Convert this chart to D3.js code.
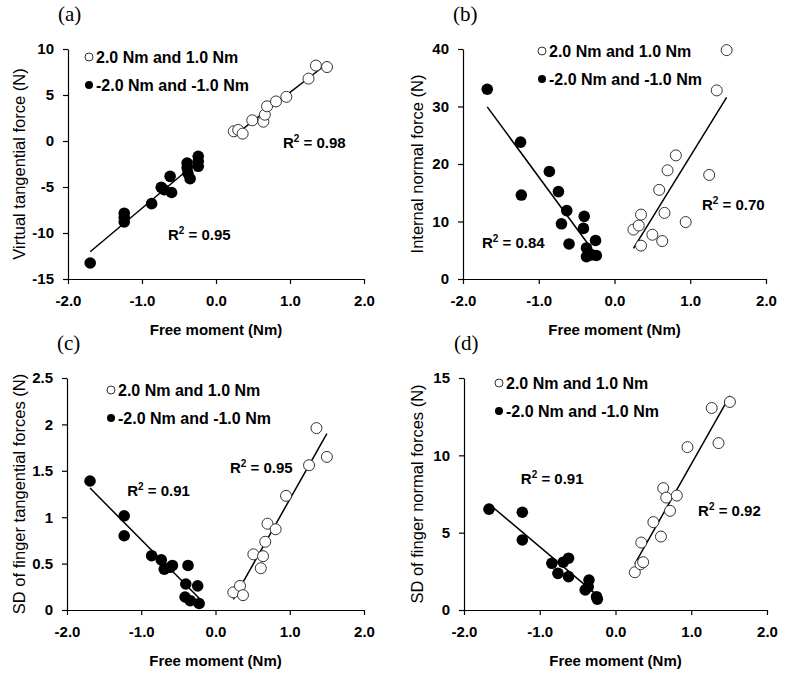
<!DOCTYPE html>
<html>
<head>
<meta charset="utf-8">
<script src="https://cdn.jsdelivr.net/npm/d3@7"></script>
<style>
  body { margin: 0; background: #fff; }
  svg { font-family: "Liberation Sans", Arial, sans-serif; }
</style>
</head>
<body>
<div id="vis"></div>
<script>
const FRAME_WIDTH = 789;
const FRAME_HEIGHT = 676;

// shared x axis ticks (free moment, Nm)
const X_TICKS = [-2, -1, 0, 1, 2];
const LEGEND_LABELS = ["2.0 Nm and 1.0 Nm", "-2.0 Nm and -1.0 Nm"];

// (a) virtual tangential force
const A_Y_TICKS = [-15, -10, -5, 0, 5, 10];
const A_OPEN_X = [0.24, 0.30, 0.36, 0.49, 0.64, 0.66, 0.69, 0.81, 0.95, 1.25, 1.35, 1.50];
const A_OPEN_Y = [1.05, 1.2, 0.8, 2.25, 2.1, 2.86, 3.77, 4.3, 4.8, 6.78, 8.2, 8.04];
const A_FILL_X = [-1.70, -1.24, -1.24, -1.24, -0.87, -0.74, -0.70, -0.60, -0.62, -0.39, -0.39, -0.38, -0.35, -0.24, -0.24, -0.24];
const A_FILL_Y = [-13.26, -7.85, -8.3, -8.8, -6.81, -5.04, -5.3, -5.6, -3.84, -2.39, -2.9, -3.5, -4.1, -1.67, -2.2, -2.75];

// (b) internal normal force
const B_Y_TICKS = [0, 10, 20, 30, 40];
const B_OPEN_X = [0.25, 0.32, 0.35, 0.35, 0.50, 0.59, 0.63, 0.66, 0.70, 0.81, 0.94, 1.25, 1.35, 1.48];
const B_OPEN_Y = [8.6, 9.3, 11.2, 5.8, 7.7, 15.5, 6.6, 11.5, 18.9, 21.5, 9.9, 18.1, 32.8, 39.8];
const B_FILL_X = [-1.68, -1.24, -1.23, -0.86, -0.74, -0.63, -0.70, -0.60, -0.40, -0.41, -0.37, -0.37, -0.30, -0.25, -0.24];
const B_FILL_Y = [33.0, 23.8, 14.6, 18.7, 15.2, 11.9, 9.6, 6.1, 10.9, 8.8, 5.4, 3.9, 4.2, 6.7, 4.1];

// (c) SD of finger tangential forces
const C_Y_TICKS = [0, 0.5, 1, 1.5, 2, 2.5];
const C_OPEN_X = [0.24, 0.33, 0.37, 0.51, 0.61, 0.64, 0.67, 0.70, 0.81, 0.95, 1.26, 1.36, 1.50];
const C_OPEN_Y = [0.19, 0.26, 0.16, 0.60, 0.45, 0.58, 0.735, 0.93, 0.87, 1.23, 1.56, 1.96, 1.65];
const C_FILL_X = [-1.69, -1.23, -1.23, -0.86, -0.73, -0.69, -0.61, -0.58, -0.37, -0.40, -0.41, -0.34, -0.24, -0.22];
const C_FILL_Y = [1.39, 1.015, 0.80, 0.585, 0.54, 0.44, 0.46, 0.48, 0.48, 0.28, 0.14, 0.10, 0.26, 0.07];

// (d) SD of finger normal forces
const D_Y_TICKS = [0, 5, 10, 15];
const D_OPEN_X = [0.255, 0.33, 0.365, 0.34, 0.50, 0.60, 0.63, 0.67, 0.72, 0.81, 0.95, 1.27, 1.36, 1.51];
const D_OPEN_Y = [2.44, 2.96, 3.09, 4.36, 5.68, 4.75, 7.88, 7.27, 6.41, 7.40, 10.53, 13.06, 10.79, 13.45];
const D_FILL_X = [-1.67, -1.23, -1.23, -0.84, -0.76, -0.69, -0.62, -0.62, -0.40, -0.35, -0.36, -0.25, -0.24];
const D_FILL_Y = [6.52, 6.32, 4.53, 3.02, 2.37, 3.09, 3.35, 2.16, 1.30, 1.94, 1.5, 0.86, 0.7];

const PANELS = [
  {letter: "(a)", title: "Virtual tangential force (N)", yTicks: A_Y_TICKS,
   openX: A_OPEN_X, openY: A_OPEN_Y, fillX: A_FILL_X, fillY: A_FILL_Y,
   r2Open: "0.98", r2Fill: "0.95",
   left: 68, right: 364, top: 49, bottom: 279, titleX: 19,
   legend: {dx: 21, dy: 8},
   r2OpenAt: [0.905, -0.76], r2FillAt: [-0.65, -10.76]},
  {letter: "(b)", title: "Internal normal force (N)", yTicks: B_Y_TICKS,
   openX: B_OPEN_X, openY: B_OPEN_Y, fillX: B_FILL_X, fillY: B_FILL_Y,
   r2Open: "0.70", r2Fill: "0.84",
   left: 463, right: 766, top: 49, bottom: 279, titleX: 417,
   legend: {dx: 79, dy: 2},
   r2OpenAt: [1.155, 12.0], r2FillAt: [-1.75, 5.4]},
  {letter: "(c)", title: "SD of finger tangential forces (N)", yTicks: C_Y_TICKS,
   openX: C_OPEN_X, openY: C_OPEN_Y, fillX: C_FILL_X, fillY: C_FILL_Y,
   r2Open: "0.95", r2Fill: "0.91",
   left: 67, right: 364, top: 378, bottom: 610, titleX: 19,
   legend: {dx: 44, dy: 12},
   r2OpenAt: [0.195, 1.476], r2FillAt: [-1.19, 1.23]},
  {letter: "(d)", title: "SD of finger normal forces (N)", yTicks: D_Y_TICKS,
   openX: D_OPEN_X, openY: D_OPEN_Y, fillX: D_FILL_X, fillY: D_FILL_Y,
   r2Open: "0.92", r2Fill: "0.91",
   left: 464, right: 767, top: 378, bottom: 610, titleX: 417,
   legend: {dx: 35, dy: 5},
   r2OpenAt: [1.09, 6.08], r2FillAt: [-1.25, 8.15]}
];

const SVG = d3.select("#vis")
  .append("svg")
    .attr("width", FRAME_WIDTH)
    .attr("height", FRAME_HEIGHT);

// least squares fit, drawn over the x range of the group
function fitLine(xs, ys) {
  const mx = d3.mean(xs), my = d3.mean(ys);
  let sxy = 0, sxx = 0;
  xs.forEach((x, i) => { sxy += (x - mx) * (ys[i] - my); sxx += (x - mx) * (x - mx); });
  const b = sxy / sxx, a = my - b * mx;
  const x0 = d3.min(xs), x1 = d3.max(xs);
  return [[x0, a + b * x0], [x1, a + b * x1]];
}

function drawPanel(p) {
  const X_SCALE = d3.scaleLinear().domain([-2, 2]).range([p.left, p.right]);
  const Y_SCALE = d3.scaleLinear()
                    .domain([p.yTicks[0], p.yTicks[p.yTicks.length - 1]])
                    .range([p.bottom, p.top]);
  const g = SVG.append("g");

  // axes
  const xAxis = g.append("g")
    .attr("transform", "translate(0," + p.bottom + ")")
    .call(d3.axisBottom(X_SCALE).tickValues(X_TICKS).tickSize(5).tickSizeOuter(0)
            .tickPadding(11).tickFormat((d) => d.toFixed(1)));
  const yAxis = g.append("g")
    .attr("transform", "translate(" + p.left + ",0)")
    .call(d3.axisLeft(Y_SCALE).tickValues(p.yTicks).tickSize(5).tickSizeOuter(0)
            .tickPadding(9).tickFormat((d) => String(d)));
  [xAxis, yAxis].forEach((ax) => {
    ax.selectAll("text").attr("font-size", 15).attr("font-weight", "bold")
      .attr("fill", "#000").attr("font-family", "Liberation Sans, Arial, sans-serif");
    ax.selectAll("path, line").attr("stroke", "#000").attr("stroke-width", 1.2);
  });

  // axis titles
  g.append("text")
    .attr("x", (p.left + p.right) / 2)
    .attr("y", p.bottom + 56)
    .attr("text-anchor", "middle")
    .attr("font-size", 15).attr("font-weight", "bold")
    .text("Free moment (Nm)");
  g.append("text")
    .attr("transform", "translate(" + p.titleX + "," + ((p.top + p.bottom) / 2) + ") rotate(-90)")
    .attr("text-anchor", "middle")
    .attr("dominant-baseline", "central")
    .attr("font-size", 16.5)
    .text(p.title);

  // panel letter
  g.append("text")
    .attr("x", p.left - 10)
    .attr("y", p.top - 28)
    .attr("font-family", "Liberation Serif, Times New Roman, serif")
    .attr("font-size", 21)
    .text(p.letter);

  // regression lines
  [[p.openX, p.openY], [p.fillX, p.fillY]].forEach(([xs, ys]) => {
    const seg = fitLine(xs, ys);
    g.append("line")
      .attr("x1", X_SCALE(seg[0][0])).attr("y1", Y_SCALE(seg[0][1]))
      .attr("x2", X_SCALE(seg[1][0])).attr("y2", Y_SCALE(seg[1][1]))
      .attr("stroke", "#000").attr("stroke-width", 1.5);
  });

  // points
  g.selectAll(".open")
    .data(p.openX.map((x, i) => [x, p.openY[i]]))
    .enter().append("circle")
      .attr("cx", (d) => X_SCALE(d[0]))
      .attr("cy", (d) => Y_SCALE(d[1]))
      .attr("r", 5.5)
      .attr("fill", "#fff")
      .attr("stroke", "#333")
      .attr("stroke-width", 1);
  g.selectAll(".fill")
    .data(p.fillX.map((x, i) => [x, p.fillY[i]]))
    .enter().append("circle")
      .attr("cx", (d) => X_SCALE(d[0]))
      .attr("cy", (d) => Y_SCALE(d[1]))
      .attr("r", 5.8)
      .attr("fill", "#000");

  // R^2 labels
  [[p.r2OpenAt, p.r2Open], [p.r2FillAt, p.r2Fill]].forEach(([at, val]) => {
    const t = g.append("text")
      .attr("x", X_SCALE(at[0]))
      .attr("y", Y_SCALE(at[1]))
      .attr("font-size", 15).attr("font-weight", "bold");
    t.append("tspan").text("R");
    t.append("tspan").attr("dy", -6).attr("font-size", 10).text("2");
    t.append("tspan").attr("dy", 6).text(" = " + val);
  });

  // legend
  const lx = p.left + p.legend.dx, ly = p.top + p.legend.dy;
  LEGEND_LABELS.forEach((lab, i) => {
    const cy = ly + i * 28;
    g.append("circle")
      .attr("cx", lx).attr("cy", cy).attr("r", 4)
      .attr("fill", i === 0 ? "#fff" : "#000")
      .attr("stroke", i === 0 ? "#333" : "none")
      .attr("stroke-width", 1);
    g.append("text")
      .attr("x", lx + 7).attr("y", cy)
      .attr("dominant-baseline", "central")
      .attr("font-size", 16).attr("font-weight", "bold")
      .text(lab);
  });
}

PANELS.forEach(drawPanel);
</script>
</body>
</html>
